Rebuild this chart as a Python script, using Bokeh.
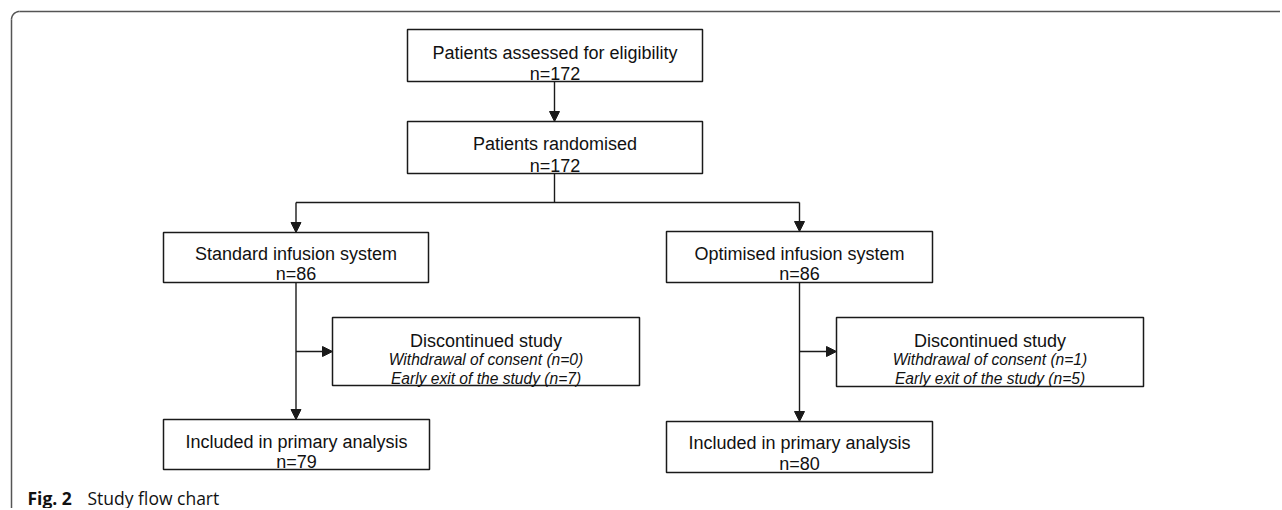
import math
from bokeh.plotting import figure
from bokeh.models import Range1d, Arrow, NormalHead, ColumnDataSource
from bokeh.core.properties import value
from bokeh.embed import file_html
from bokeh.resources import INLINE

# ---- content (text and counts) ----
box_titles = ["Patients assessed for eligibility", "Patients randomised",
              "Standard infusion system", "Optimised infusion system",
              "Included in primary analysis", "Included in primary analysis"]
box_counts = [172, 172, 86, 86, 79, 80]
disc_title = "Discontinued study"
withdrawal = [0, 1]
early_exit = [7, 5]
caption_bold = "Fig. 2"
caption_text = "Study flow chart"

# ---- layout (pixel positions in page coordinates) ----
# left, right, top, bottom, baseline line1, baseline line2
box_pos = [
    (407, 702, 29, 81, 52, 73),
    (407, 702, 121, 173, 143, 165),
    (163, 428, 232, 282, 253, 273),
    (666, 932, 231, 282, 253, 273),
    (163, 429, 419, 469, 441, 461),
    (666, 932, 421, 472, 442, 463),
]
disc_pos = [
    (332, 639, 317, 385, 340, 359, 378),
    (836, 1143, 317, 386, 340, 359, 378),
]

W, H = 1280, 508
p = figure(width=W, height=H, output_backend="svg", toolbar_location=None,
           x_range=Range1d(0, W), y_range=Range1d(H, 0),
           min_border=0, background_fill_color="white", border_fill_color="white")
p.axis.visible = False
p.grid.visible = False
p.outline_line_color = None

LC = "#1a1a1a"
FONT = value("Liberation Sans")

# outer frame (top + left with rounded corner)
r = 8
fx, fy = 11, 11
FC = "#555555"
p.line([fx + r, 1282], [fy, fy], line_color=FC, line_width=1.5)
p.line([fx, fx], [fy + r, 510], line_color=FC, line_width=1.5)
angs = [math.pi + i * (math.pi / 2) / 12 for i in range(13)]
p.line([fx + r + r * math.cos(a) for a in angs], [fy + r + r * math.sin(a) for a in angs],
       line_color=FC, line_width=1.5)

# boxes
all_boxes = [b[:4] for b in box_pos] + [d[:4] for d in disc_pos]
src = ColumnDataSource(dict(left=[b[0] for b in all_boxes], right=[b[1] for b in all_boxes],
                            top=[b[2] for b in all_boxes], bottom=[b[3] for b in all_boxes]))
p.quad(left="left", right="right", top="top", bottom="bottom", source=src,
       fill_color="white", line_color=LC, line_width=1.5)

# box texts
xs, ys, ts = [], [], []
for (l, rr, t, b, b1, b2), title, n in zip(box_pos, box_titles, box_counts):
    cx = (l + rr) / 2
    xs += [cx, cx]
    ys += [b1, b2]
    ts += [title, f"n={n}"]
for (l, rr, t, b, b1, b2, b3) in disc_pos:
    xs.append((l + rr) / 2); ys.append(b1); ts.append(disc_title)
p.text(x=xs, y=ys, text=ts, text_align="center", text_baseline="alphabetic",
       text_font=FONT, text_font_size="18px", text_color="#111111")

ixs, iys, its = [], [], []
for (l, rr, t, b, b1, b2, b3), w, e in zip(disc_pos, withdrawal, early_exit):
    cx = (l + rr) / 2
    ixs += [cx, cx]
    iys += [b2, b3]
    its += [f"Withdrawal of consent (n={w})", f"Early exit of the study (n={e})"]
p.text(x=ixs, y=iys, text=its, text_align="center", text_baseline="alphabetic",
       text_font=FONT, text_font_size="15.6px", text_font_style="italic", text_color="#111111")

# connectors
def arrow(x0, y0, x1, y1):
    p.add_layout(Arrow(end=NormalHead(size=10, fill_color=LC, line_color=LC),
                       x_start=x0, y_start=y0, x_end=x1, y_end=y1,
                       line_color=LC, line_width=1.4))

def seg(xsg, ysg):
    p.line(xsg, ysg, line_color=LC, line_width=1.4)

cx12 = (box_pos[0][0] + box_pos[0][1]) / 2 - 0.5
arrow(cx12, box_pos[0][3], cx12, box_pos[1][2])
split_y = 202
lx = (box_pos[2][0] + box_pos[2][1]) / 2
rx = (box_pos[3][0] + box_pos[3][1]) / 2
seg([cx12, cx12], [box_pos[1][3], split_y])
seg([lx, rx], [split_y, split_y])
arrow(lx, split_y, lx, box_pos[2][2])
arrow(rx, split_y, rx, box_pos[3][2])
arrow(lx, box_pos[2][3], lx, box_pos[4][2])
arrow(rx, box_pos[3][3], rx, box_pos[5][2])
side_y = 351
arrow(lx, side_y, disc_pos[0][0], side_y)
arrow(rx, side_y, disc_pos[1][0], side_y)

# caption
p.text(x=[27], y=[497], text=[caption_bold], text_font=value("Open Sans"),
       text_font_size="17.5px", text_font_style="bold", text_baseline="alphabetic",
       text_color="#111111")
p.text(x=[87], y=[497], text=[caption_text], text_font=value("Open Sans"),
       text_font_size="17.5px", text_baseline="alphabetic", text_color="#111111")

open("out.html", "w").write(file_html(p, INLINE))
